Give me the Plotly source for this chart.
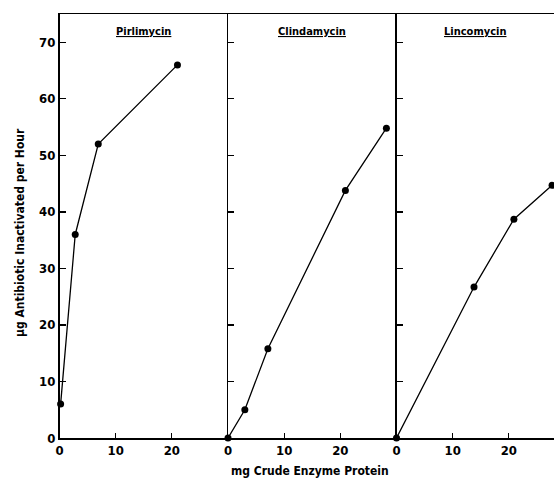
import plotly.graph_objects as go

panel_titles = ["Pirlimycin", "Clindamycin", "Lincomycin"]
pir_x = [0.2, 2.8, 6.9, 21.0]
pir_y = [6.0, 36.0, 52.0, 66.0]
cli_x = [0.0, 3.0, 7.1, 20.9, 28.2]
cli_y = [0.0, 5.0, 15.8, 43.8, 54.8]
lin_x = [0.0, 13.8, 20.9, 27.7]
lin_y = [0.0, 26.7, 38.7, 44.7]
y_ticks = [0, 10, 20, 30, 40, 50, 60, 70]
x_ticks = [0, 10, 20]
x_label = "mg Crude Enzyme Protein"
y_label = "µg Antibiotic Inactivated per Hour"

W, H = 554, 480
FONT = "DejaVu Sans Condensed, Liberation Sans Narrow, sans-serif"

left, d1, d2, right = 59.5, 228.0, 396.5, 554.0
top, bottom = 14.0, 438.0
px_per = (d1 - left) / 30.0

doms = [(left / W, d1 / W), (d1 / W, d2 / W), (d2 / W, 1.0)]
xranges = [[0, 30], [0, 30], [0, (right - d2) / px_per]]
ydom = [1 - bottom / H, 1 - top / H]

fig = go.Figure()
series = [(pir_x, pir_y), (cli_x, cli_y), (lin_x, lin_y)]
for i, (xs, ys) in enumerate(series):
    ax = "" if i == 0 else str(i + 1)
    fig.add_trace(go.Scatter(
        x=xs, y=ys, mode="lines+markers",
        line=dict(color="black", width=1.3),
        marker=dict(color="black", size=7),
        cliponaxis=False, showlegend=False,
        xaxis="x" + ax, yaxis="y" + ax,
    ))
    xa = dict(
        domain=list(doms[i]), range=xranges[i], anchor="y" + ax,
        tickvals=x_ticks, ticktext=["<b>%d</b>" % v for v in x_ticks],
        ticks="inside", ticklen=5, tickwidth=1.3, tickcolor="black",
        showline=True, linecolor="black", linewidth=1.5,
        mirror=True, showgrid=False, zeroline=False, automargin=False,
        tickfont=dict(family=FONT, size=13, color="black"),
        fixedrange=True,
    )
    ya = dict(
        domain=ydom, range=[0, 75], anchor="x" + ax,
        tickvals=y_ticks,
        ticks="inside", ticklen=6, tickwidth=1.3, tickcolor="black",
        showline=True, linecolor="black", linewidth=1.5,
        mirror=False, showgrid=False, zeroline=False, automargin=False,
        showticklabels=(i == 0),
        tickfont=dict(family=FONT, size=13, color="black"),
        fixedrange=True,
    )
    if i == 0:
        ya["ticktext"] = ["<b>%d</b>" % v for v in y_ticks]
    fig.layout["xaxis" + ax] = xa
    fig.layout["yaxis" + ax] = ya
    fig.add_annotation(
        x=0.5, xref="x" + ax + " domain" if ax else "x domain",
        y=1 - 32 / H, yref="paper", xanchor="center", yanchor="middle",
        text="<b><u>%s</u></b>" % panel_titles[i], showarrow=False,
        font=dict(family=FONT, size=11, color="black"),
    )

fig.add_annotation(
    x=310 / W, xref="paper", y=1 - 471 / H, yref="paper",
    xanchor="center", yanchor="middle",
    text="<b>%s</b>" % x_label, showarrow=False,
    font=dict(family=FONT, size=12, color="black"),
)
fig.add_annotation(
    x=20 / W, xref="paper", y=1 - 233 / H, yref="paper",
    xanchor="center", yanchor="middle",
    text="<b>%s</b>" % y_label, showarrow=False, textangle=-90,
    font=dict(family=FONT, size=12, color="black"),
)

fig.update_layout(
    width=W, height=H, autosize=False,
    margin=dict(l=0, r=0, t=0, b=0),
    paper_bgcolor="white", plot_bgcolor="white",
)
fig.write_html(
    "out.html",
    config={"displayModeBar": False, "staticPlot": True},
    post_script="document.body.style.margin='0';document.body.style.overflow='hidden';",
)
